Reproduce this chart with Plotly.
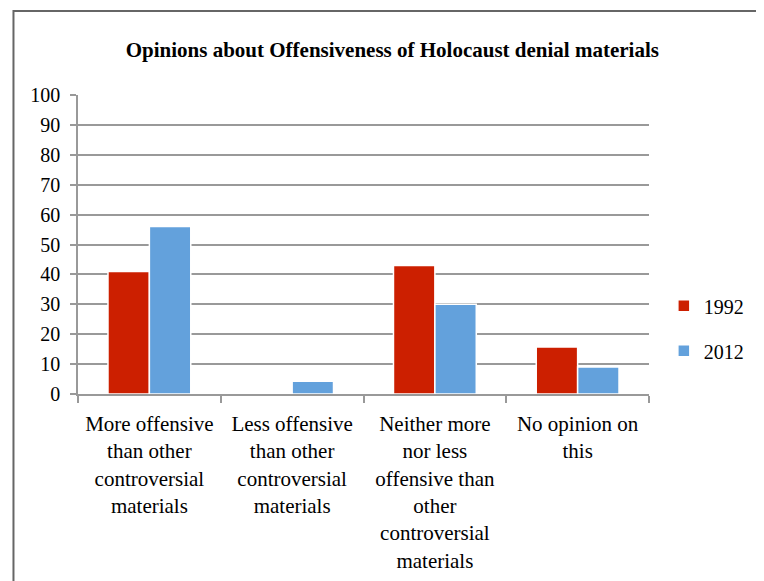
"""Opinions about offensiveness of Holocaust denial materials, 1992 vs 2012."""

import plotly.graph_objects as go

CATEGORIES = [
    "More offensive<br>than other<br>controversial<br>materials",
    "Less offensive<br>than other<br>controversial<br>materials",
    "Neither more<br>nor less<br>offensive than<br>other<br>controversial<br>materials",
    "No opinion on<br>this",
]
VALUES_1992 = [41, 0, 43, 15.7]
VALUES_2012 = [56, 4.3, 30, 9]
Y_TICKS = [0, 10, 20, 30, 40, 50, 60, 70, 80, 90, 100]

FONT = "Liberation Serif, Times New Roman, serif"
RED = "#CC1F00"
BLUE = "#63A1DC"
GRID = "#999999"

fig = go.Figure()
for name, vals, color in [("1992", VALUES_1992, RED), ("2012", VALUES_2012, BLUE)]:
    fig.add_trace(
        go.Bar(
            x=CATEGORIES,
            y=vals,
            name=name,
            legendgroup=name,
            marker=dict(color=color, line=dict(color="white", width=1.5)),
        )
    )

# page body adds an offset, so margins are shifted to compensate
fig.update_layout(
    width=764,
    height=581,
    margin=dict(l=70, r=123, t=87, b=195),
    paper_bgcolor="white",
    plot_bgcolor="white",
    barmode="group",
    bargap=0.42,
    bargroupgap=0.0,
    font=dict(family=FONT, size=20, color="black"),
    title=dict(
        text="<b>Opinions about Offensiveness of Holocaust denial materials</b>",
        x=0.503,
        xanchor="center",
        y=0.928,
        yanchor="middle",
        font=dict(family=FONT, size=21, color="black"),
    ),
    legend=dict(
        x=1.026,
        xanchor="left",
        y=0.22,
        yanchor="middle",
        font=dict(family=FONT, size=20),
        tracegroupgap=16,
        itemwidth=30,
    ),
    showlegend=True,
)

fig.update_yaxes(
    range=[0, 100],
    tickvals=Y_TICKS,
    showgrid=True,
    gridcolor=GRID,
    gridwidth=1.6,
    showline=True,
    linecolor=GRID,
    linewidth=1.6,
    ticks="outside",
    ticklen=6,
    tickcolor=GRID,
    tickwidth=1.6,
    zeroline=False,
    ticklabelstandoff=6,
    tickfont=dict(family=FONT, size=20),
)
fig.update_xaxes(
    showline=True,
    linecolor=GRID,
    linewidth=1.6,
    ticks="outside",
    tickson="boundaries",
    ticklen=7,
    tickcolor=GRID,
    tickwidth=1.6,
    tickangle=0,
    showgrid=False,
    ticklabelstandoff=10,
    tickfont=dict(family=FONT, size=21),
)

# outer chart frame (runs off the right and bottom of the picture)
fig.add_shape(
    type="rect",
    xref="paper",
    yref="paper",
    x0=-0.113,
    x1=1.4,
    y0=-0.8,
    y1=1.281,
    line=dict(color="#666666", width=2),
    layer="below",
)

fig.write_html("out.html")
